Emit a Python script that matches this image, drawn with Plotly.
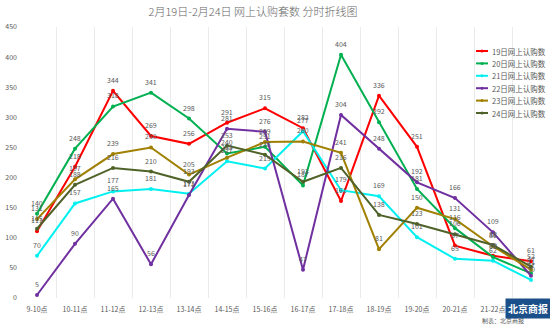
import plotly.graph_objects as go

# Hourly time slots
slots = ["9-10点", "10-11点", "11-12点", "12-13点", "13-14点", "14-15点", "15-16点",
         "16-17点", "17-18点", "18-19点", "19-20点", "20-21点", "21-22点", "22-23点"]

# Online subscription counts per day
day19 = [111, 218, 344, 269, 256, 291, 315, 282, 161, 336, 251, 87, 70, 61]
day20 = [140, 248, 318, 341, 298, 240, 251, 187, 404, 292, 181, 116, 68, 41]
day21 = [70, 157, 177, 181, 173, 227, 215, 277, 179, 169, 101, 65, 62, 30]
day22 = [5, 90, 165, 56, 171, 281, 276, 47, 304, 248, 192, 166, 109, 37]
day23 = [131, 197, 239, 250, 205, 233, 259, 260, 241, 81, 150, 131, 86, 47]
day24 = [115, 188, 216, 210, 193, 253, 238, 193, 216, 138, 123, 106, 88, 52]

series = [
    ("19日网上认购数", day19, "#FF0000"),
    ("20日网上认购数", day20, "#00B050"),
    ("21日网上认购数", day21, "#00F0F0"),
    ("22日网上认购数", day22, "#7030A0"),
    ("23日网上认购数", day23, "#A08000"),
    ("24日网上认购数", day24, "#4F6228"),
]

FONT = "Noto Sans CJK SC"
GREY = "#595959"
W, H = 550, 325
ML, MR, MT, MB = 18, 0, 27, 27


def px(x):
    return (x - ML) / (W - ML - MR)


def py(y):
    return (H - MB - y) / (H - MT - MB)


fig = go.Figure()
for name, vals, color in series:
    fig.add_trace(go.Scatter(
        x=slots, y=vals, name=name, mode="lines+markers", showlegend=False,
        line=dict(color=color, width=2),
        marker=dict(color=color, size=4),
    ))

# Value labels sit a little above each point
for name, vals, color in series:
    for s, v in zip(slots, vals):
        fig.add_annotation(x=s, y=v, text=str(v), showarrow=False,
                           yanchor="bottom", yshift=4,
                           font=dict(size=7, color=GREY, family=FONT))

fig.update_layout(
    width=W, height=H,
    margin=dict(l=ML, r=MR, t=MT, b=MB),
    paper_bgcolor="white", plot_bgcolor="white",
    font=dict(family=FONT, color=GREY, size=7),
    title=dict(text="2月19日-2月24日 网上认购套数 分时折线图",
               x=0.46, xanchor="center", y=0.962, yanchor="middle",
               font=dict(size=11, color="#666666", family=FONT, weight=300)),
    xaxis=dict(type="category", tickson="boundaries", showgrid=True,
               gridcolor="#EBEBEB", gridwidth=1, showline=False,
               ticks="", ticklabelstandoff=6,
               tickfont=dict(size=7, color=GREY), range=[-0.5, 13.5]),
    yaxis=dict(range=[0, 450], dtick=50, showgrid=False, zeroline=False,
               showline=False, ticks="", tickfont=dict(size=7, color=GREY)),
    showlegend=False,
)

# Legend drawn as line samples with a dot and a label
row0, step = 51, 12.4
for i, (name, vals, color) in enumerate(series):
    yy = row0 + i * step
    fig.add_shape(type="line", xref="paper", yref="paper",
                  x0=px(476), x1=px(488), y0=py(yy), y1=py(yy),
                  line=dict(color=color, width=2))
    fig.add_shape(type="circle", xref="paper", yref="paper",
                  x0=px(480.5), x1=px(483.5), y0=py(yy - 1.5), y1=py(yy + 1.5),
                  fillcolor=color, line=dict(color=color, width=0))
    fig.add_annotation(text=name, xref="paper", yref="paper",
                       x=px(490), y=py(yy), xanchor="left", yanchor="middle",
                       showarrow=False,
                       font=dict(size=7.5, color=GREY, family=FONT))

fig.add_annotation(text="制表：北京商报", xref="paper", yref="paper",
                   x=px(480), y=py(320), xanchor="left", yanchor="middle",
                   showarrow=False, font=dict(size=6, color=GREY, family=FONT))
fig.add_annotation(text="<b>北京商报</b>", xref="paper", yref="paper",
                   x=px(528), y=py(309), xanchor="center", yanchor="middle",
                   showarrow=False, bgcolor="#1B4F8A", borderpad=2,
                   font=dict(size=10, color="white", family=FONT))

fig.write_html("out.html")
